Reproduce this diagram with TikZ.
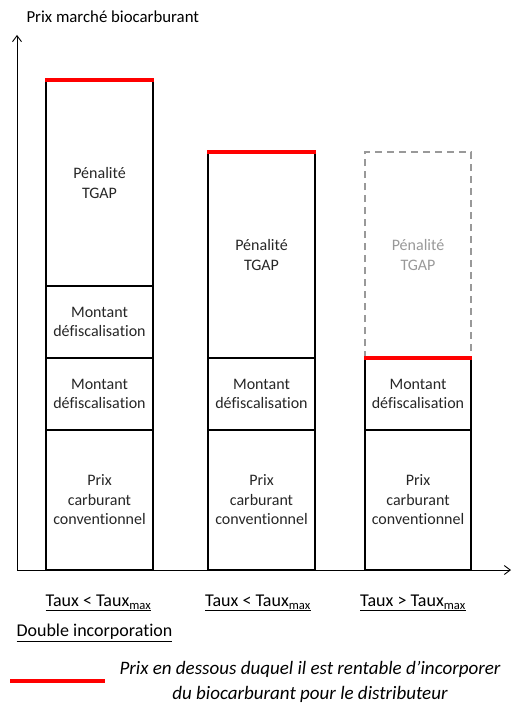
\documentclass[tikz,border=0pt]{standalone}
\usepackage{fontspec}
\setmainfont[Ligatures=NoCommon]{Carlito}
\usetikzlibrary{arrows.meta}

\begin{document}
\begin{tikzpicture}[x=1pt,y=-1pt,
  barline/.style={line width=1.6pt,black},
  ghostline/.style={line width=1.8pt,gray!80,dash pattern=on 7pt off 5pt},
  redline/.style={line width=3.5pt,red},
  inbar/.style={align=center,font=\fontsize{16}{19.5}\selectfont,text=black!85},
  taux/.style={font=\fontsize{18}{20}\selectfont}]
\useasboundingbox (0,0) rectangle (529,706);

% Axes
\coordinate (origin) at (17,570);
\coordinate (ytop) at (17,35);
\coordinate (xend) at (511,570);
\draw[-{Straight Barb[length=6pt,width=9pt]},line width=0.9pt] (origin) -- (ytop);
\draw[-{Straight Barb[length=6pt,width=9pt]},line width=0.9pt] (origin) -- (xend);
\node[anchor=west,font=\fontsize{16.8}{19}\selectfont] (ylabel) at (23,17) {Prix marché biocarburant};

% First bar: double incorporation
\draw[barline] (46,80) rectangle (153,570);
\draw[barline] (46,286) -- (153,286);
\draw[barline] (46,358) -- (153,358);
\draw[barline] (46,430) -- (153,430);
\draw[redline] (45,80) -- (154,80);
\node[inbar] (pen1) at (99.5,183) {Pénalité\\TGAP};
\node[inbar] (defa1) at (99.5,322) {Montant\\défiscalisation};
\node[inbar] (defb1) at (99.5,394) {Montant\\défiscalisation};
\node[inbar] (prix1) at (99.5,500) {Prix\\carburant\\conventionnel};

% Second bar
\draw[barline] (208,152) rectangle (315,570);
\draw[barline] (208,358) -- (315,358);
\draw[barline] (208,430) -- (315,430);
\draw[redline] (207,152) -- (316,152);
\node[inbar] (pen2) at (261.5,255) {Pénalité\\TGAP};
\node[inbar] (def2) at (261.5,394) {Montant\\défiscalisation};
\node[inbar] (prix2) at (261.5,500) {Prix\\carburant\\conventionnel};

% Third bar: penalty no longer paid
\draw[ghostline] (365,358) -- (365,152) -- (471,152) -- (471,358);
\draw[barline] (365,358) rectangle (471,570);
\draw[barline] (365,430) -- (471,430);
\draw[redline] (364,358) -- (472,358);
\node[inbar,text=gray!80] (pen3) at (418,255) {Pénalité\\TGAP};
\node[inbar] (def3) at (418,394) {Montant\\défiscalisation};
\node[inbar] (prix3) at (418,500) {Prix\\carburant\\conventionnel};

% Labels under the bars
\node[taux] (taux1) at (98.5,603) {\underline{Taux < Taux\textsubscript{max}}};
\node[taux] (taux2) at (258,603) {\underline{Taux < Taux\textsubscript{max}}};
\node[taux] (taux3) at (413,603) {\underline{Taux > Taux\textsubscript{max}}};
\node[taux,anchor=west] (double) at (13,633) {\underline{Double incorporation}};

% Legend
\draw[redline] (10,681) -- (105,681);
\node[align=center,font=\fontsize{19}{25}\itshape\selectfont] (legend) at (310,682)
  {Prix en dessous duquel il est rentable d’incorporer\\du biocarburant pour le distributeur};
\end{tikzpicture}
\end{document}
